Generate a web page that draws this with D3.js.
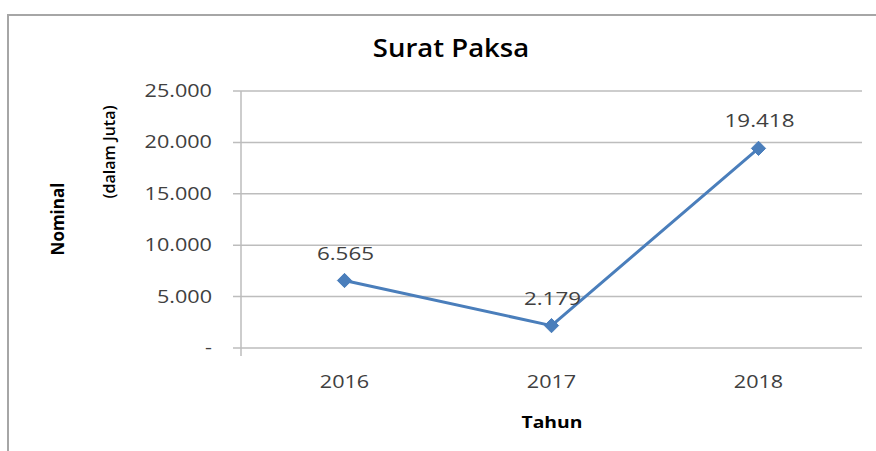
<!DOCTYPE html>
<html><head><meta charset="utf-8">
<script src="https://cdn.jsdelivr.net/npm/d3@7"></script>
<style>html,body{margin:0;padding:0;background:#fff;}svg{display:block;}</style>
</head><body>
<script>
const categories = ["2016", "2017", "2018"];
const values = [6565, 2179, 19418];
const valueLabels = ["6.565", "2.179", "19.418"];
const yTicks = [0, 5000, 10000, 15000, 20000, 25000];
const yTickLabels = ["-", "5.000", "10.000", "15.000", "20.000", "25.000"];
const title = "Surat Paksa";
const xTitle = "Tahun";
const yTitle1 = "Nominal";
const yTitle2 = "(dalam Juta)";

(function () {
const W = 876, H = 451;
const svg = d3.select("body").append("svg").attr("width", W).attr("height", H);
const font = "'Open Sans', sans-serif";

// horizontal widening of text to mimic the reference's stretched glyphs
function stretch(sel, f) {
  sel.each(function () {
    const n = this.getComputedTextLength();
    if (n > 0) d3.select(this).attr("textLength", n * f).attr("lengthAdjust", "spacingAndGlyphs");
  });
}

// outer chart border
svg.append("path").attr("d", `M8,451 V15 H876`).attr("fill", "none")
  .attr("stroke", "#a6a6a6").attr("stroke-width", 2);

const pLeft = 241, pRight = 862, pTop = 91, pBottom = 348;
const x = d3.scaleBand().domain(categories).range([pLeft, pRight]);
const y = d3.scaleLinear().domain([0, 25000]).range([pBottom, pTop]);
const cx = c => x(c) + x.bandwidth() / 2;

// gridlines
svg.append("g").selectAll("line").data(yTicks).join("line")
  .attr("x1", pLeft - 8).attr("x2", pRight)
  .attr("y1", d => y(d)).attr("y2", d => y(d))
  .attr("stroke", "#bdbdbd").attr("stroke-width", 1.5);

// y axis line
svg.append("line").attr("x1", pLeft).attr("x2", pLeft).attr("y1", pTop).attr("y2", pBottom + 8)
  .attr("stroke", "#bdbdbd").attr("stroke-width", 1.5);

// y tick labels
svg.append("g").selectAll("text").data(yTicks).join("text")
  .attr("x", 212).attr("y", d => y(d) + 6)
  .attr("text-anchor", "end").attr("font-family", font).attr("font-size", 18)
  .attr("fill", "#404040").text((d, i) => yTickLabels[i])
  .call(stretch, 1.2);

// x tick labels
svg.append("g").selectAll("text").data(categories).join("text")
  .attr("x", d => cx(d)).attr("y", 388)
  .attr("text-anchor", "middle").attr("font-family", font).attr("font-size", 18)
  .attr("fill", "#404040").text(d => d)
  .call(stretch, 1.2);

// line
const line = d3.line().x((d, i) => cx(categories[i])).y(d => y(d));
svg.append("path").datum(values).attr("d", line).attr("fill", "none")
  .attr("stroke", "#4a7ebb").attr("stroke-width", 3).attr("stroke-linejoin", "round");

// markers (diamonds)
svg.append("g").selectAll("path").data(values).join("path")
  .attr("d", d3.symbol().type(d3.symbolDiamond2).size(130))
  .attr("transform", (d, i) => `translate(${cx(categories[i])},${y(d)})`)
  .attr("fill", "#4a7ebb").attr("stroke", "#4a7ebb").attr("stroke-width", 1);

// data labels
svg.append("g").selectAll("text").data(values).join("text")
  .attr("x", (d, i) => cx(categories[i]) + 1)
  .attr("y", d => y(d) - 21)
  .attr("text-anchor", "middle").attr("font-family", font).attr("font-size", 19)
  .attr("fill", "#404040").text((d, i) => valueLabels[i])
  .call(stretch, 1.18);

// title
svg.append("text").attr("x", 451).attr("y", 57).attr("text-anchor", "middle")
  .attr("font-family", font).attr("font-size", 25).attr("font-weight", 600)
  .attr("fill", "#000").text(title)
  .call(stretch, 1.1);

// x title
svg.append("text").attr("x", 552).attr("y", 428).attr("text-anchor", "middle")
  .attr("font-family", font).attr("font-size", 16.5).attr("font-weight", 700)
  .attr("fill", "#000").text(xTitle)
  .call(stretch, 1.17);

// y titles
svg.append("text").attr("transform", "translate(64,219) rotate(-90)")
  .attr("text-anchor", "middle").attr("font-family", font).attr("font-size", 17)
  .attr("font-weight", 700).attr("fill", "#000").text(yTitle1);
svg.append("text").attr("transform", "translate(115,152) rotate(-90)")
  .attr("text-anchor", "middle").attr("font-family", font).attr("font-size", 16)
  .attr("font-weight", 600).attr("fill", "#000").text(yTitle2);
})();
</script>
</body></html>
